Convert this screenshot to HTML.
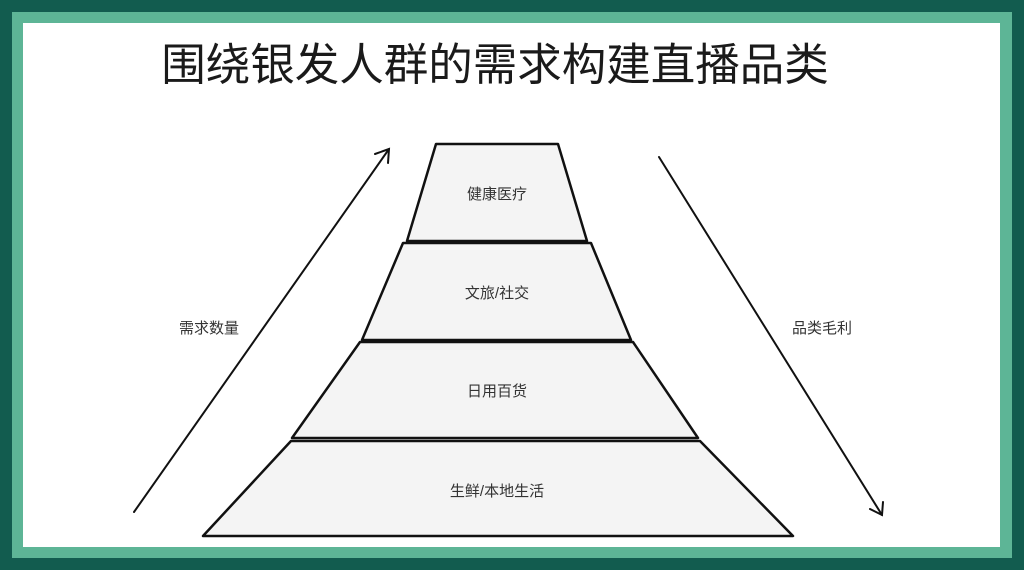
<!DOCTYPE html>
<html><head><meta charset="utf-8"><style>
body{margin:0;width:1024px;height:570px;overflow:hidden;background:#125c4f;position:relative;font-family:"Liberation Sans","Noto Sans CJK SC",sans-serif}
.l{position:absolute;left:12px;top:12px;width:1000px;height:546px;background:#5db596}
.w{position:absolute;left:23px;top:23px;width:977px;height:524px;background:#fff}
</style></head><body>
<div class="l"></div><div class="w"></div>
<svg width="1024" height="570" style="position:absolute;left:0;top:0">
<g fill="#f4f4f4" stroke="#111" stroke-width="2.5" stroke-linejoin="round">
<polygon points="436,144 558,144 587,241 407,241"/>
<polygon points="403,243 591,243 631,340 362,340"/>
<polygon points="360,342 633,342 698,438 292,438"/>
<polygon points="291,441 700,441 793,536 203,536"/>
</g>
<g stroke="#111" stroke-width="2" fill="none" stroke-linecap="round">
<line x1="134" y1="512" x2="389" y2="149"/>
<polyline points="375,154 389,149 388,163"/>
<line x1="659" y1="157" x2="882" y2="515"/>
<polyline points="870,509 882,515 883,502"/>
</g>
<g font-family="Liberation Sans, Noto Sans CJK SC, sans-serif" font-size="15" fill="#333" text-anchor="middle">
<text x="497" y="199">健康医疗</text>
<text x="497" y="298">文旅/社交</text>
<text x="497" y="396">日用百货</text>
<text x="497" y="496">生鲜/本地生活</text>
<text x="209" y="333">需求数量</text>
<text x="822" y="333">品类毛利</text>
</g>
<text x="495" y="80" text-anchor="middle" font-family="Liberation Sans, Noto Sans CJK SC, sans-serif" font-size="44.5" fill="#1a1a1a">围绕银发人群的需求构建直播品类</text>
</svg>
</body></html>
